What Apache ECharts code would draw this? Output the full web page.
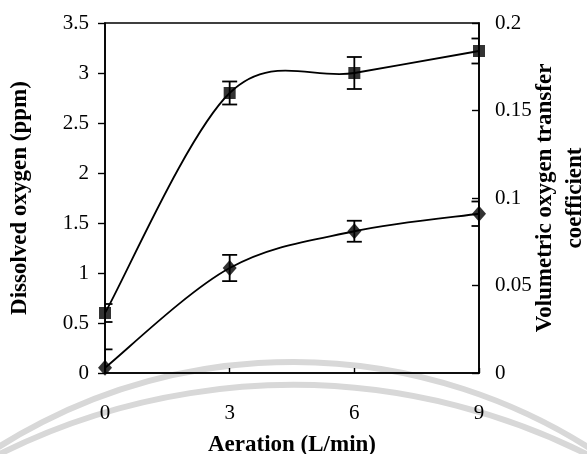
<!DOCTYPE html>
<html><head><meta charset="utf-8">
<script src="https://cdn.jsdelivr.net/npm/echarts@6/dist/echarts.min.js"></script>
<style>html,body{margin:0;padding:0;background:#fff}#c{width:587px;height:454px}</style>
</head><body><div id="c"></div>
<script>
const aeration = [0, 3, 6, 9];
const dissolvedOxygen = [0.6, 2.8, 3.0, 3.22];
const dissolvedOxygenErr = [0.09, 0.115, 0.16, 0.125];
const kla = [0.003, 0.06, 0.081, 0.091];
const klaErr = [0.0105, 0.0075, 0.006, 0.007];
const xTicks = [0, 3, 6, 9];

const FONT = "'Liberation Serif','Times New Roman',serif";
const chart = echarts.init(document.getElementById('c'), null, {renderer: 'canvas'});

function errData(vals, errs) {
  return aeration.map((x, i) => [x, vals[i] - errs[i], vals[i] + errs[i]]);
}
function errRender(params, api) {
  const x = api.value(0);
  const lo = api.coord([x, api.value(1)]);
  const hi = api.coord([x, api.value(2)]);
  const w = 7.5;
  const style = {stroke: '#000', lineWidth: 1.8};
  return {type: 'group', children: [
    {type: 'line', shape: {x1: lo[0], y1: lo[1], x2: hi[0], y2: hi[1]}, style},
    {type: 'line', shape: {x1: lo[0]-w, y1: lo[1], x2: lo[0]+w, y2: lo[1]}, style},
    {type: 'line', shape: {x1: hi[0]-w, y1: hi[1], x2: hi[0]+w, y2: hi[1]}, style}
  ]};
}
// spreadsheet-style smoothed segments (cubic Bezier, tangent = (next - prev)/6)
function splineSeries(vals, axisIdx) {
  const pts = aeration.map((x, i) => [x, vals[i]]);
  return {
    type: 'custom', yAxisIndex: axisIdx, clip: false, z: 3, silent: true,
    data: pts.slice(0, -1).map((p, i) => [i, p[0], p[1]]),
    renderItem: function (params, api) {
      const i = api.value(0);
      const p0 = pts[Math.max(i - 1, 0)], p1 = pts[i], p2 = pts[i + 1], p3 = pts[Math.min(i + 2, pts.length - 1)];
      const a = api.coord(p0), b = api.coord(p1), c = api.coord(p2), d = api.coord(p3);
      const c1 = [b[0] + (c[0] - a[0]) / 6, b[1] + (c[1] - a[1]) / 6];
      const c2 = [c[0] - (d[0] - b[0]) / 6, c[1] - (d[1] - b[1]) / 6];
      return {type: 'bezierCurve',
        shape: {x1: b[0], y1: b[1], x2: c[0], y2: c[1], cpx1: c1[0], cpy1: c1[1], cpx2: c2[0], cpy2: c2[1]},
        style: {stroke: '#000', lineWidth: 1.8, fill: null}};
    }
  };
}

const axisLine = {show: true, lineStyle: {color: '#000', width: 1.6}};
const labelStyle = {color: '#000', fontFamily: FONT, fontSize: 21};
const nameStyle = {color: '#000', fontFamily: FONT, fontSize: 23, fontWeight: 'bold'};

chart.setOption({
  animation: false,
  backgroundColor: '#fff',
  graphic: [
    {type: 'arc', z: -10, shape: {cx: 293, cy: 914, r: 552, startAngle: Math.PI*1.1, endAngle: Math.PI*1.9}, style: {stroke: '#d8d8d8', lineWidth: 6, fill: null}},
    {type: 'arc', z: -10, shape: {cx: 293, cy: 1042, r: 657, startAngle: Math.PI*1.2, endAngle: Math.PI*1.8}, style: {stroke: '#d8d8d8', lineWidth: 6, fill: null}}
  ],
  grid: {left: 105, right: 108, top: 23, bottom: 81, outerBoundsMode: 'none', containLabel: false,
         show: true, borderColor: '#000', borderWidth: 1.6, backgroundColor: 'transparent'},
  xAxis: {
    type: 'value', min: 0, max: 9, interval: 3,
    name: 'Aeration (L/min)', nameLocation: 'middle', nameGap: 61, nameMoveOverlap: false, nameTextStyle: nameStyle,
    axisLine, axisTick: {show: true, inside: true, length: 5, lineStyle: {color: '#000', width: 1.4}},
    axisLabel: Object.assign({margin: 30, formatter: v => xTicks.includes(v) ? String(v) : ''}, labelStyle),
    splitLine: {show: false}
  },
  yAxis: [
    {type: 'value', min: 0, max: 3.5, interval: 0.5, position: 'left',
     name: 'Dissolved oxygen (ppm)', nameLocation: 'middle', nameGap: 73, nameMoveOverlap: false, nameTextStyle: nameStyle,
     axisLine, axisTick: {show: true, length: 7, lineStyle: {color: '#000', width: 1.4}},
     axisLabel: Object.assign({margin: 16}, labelStyle), splitLine: {show: false}},
    {type: 'value', min: 0, max: 0.2, interval: 0.05, position: 'right',
     name: 'Volumetric oxygen transfer\ncoefficient', nameLocation: 'middle', nameGap: 51, nameRotate: 90, nameMoveOverlap: false,
     nameTextStyle: Object.assign({lineHeight: 30}, nameStyle),
     axisLine, axisTick: {show: true, inside: true, length: 7, lineStyle: {color: '#000', width: 1.4}},
     axisLabel: Object.assign({margin: 16}, labelStyle), splitLine: {show: false}}
  ],
  series: [
    splineSeries(dissolvedOxygen, 0),
    splineSeries(kla, 1),
    {type: 'scatter', yAxisIndex: 0, data: aeration.map((x, i) => [x, dissolvedOxygen[i]]),
     symbol: 'rect', symbolSize: 12, itemStyle: {color: '#000'}, z: 5},
    {type: 'scatter', yAxisIndex: 1, data: aeration.map((x, i) => [x, kla[i]]),
     symbol: 'diamond', symbolSize: [14, 16], itemStyle: {color: '#000'}, z: 5},
    {type: 'custom', yAxisIndex: 0, data: errData(dissolvedOxygen, dissolvedOxygenErr), renderItem: errRender, clip: true, z: 4},
    {type: 'custom', yAxisIndex: 1, data: errData(kla, klaErr), renderItem: errRender, clip: true, z: 4}
  ]
});
</script></body></html>
